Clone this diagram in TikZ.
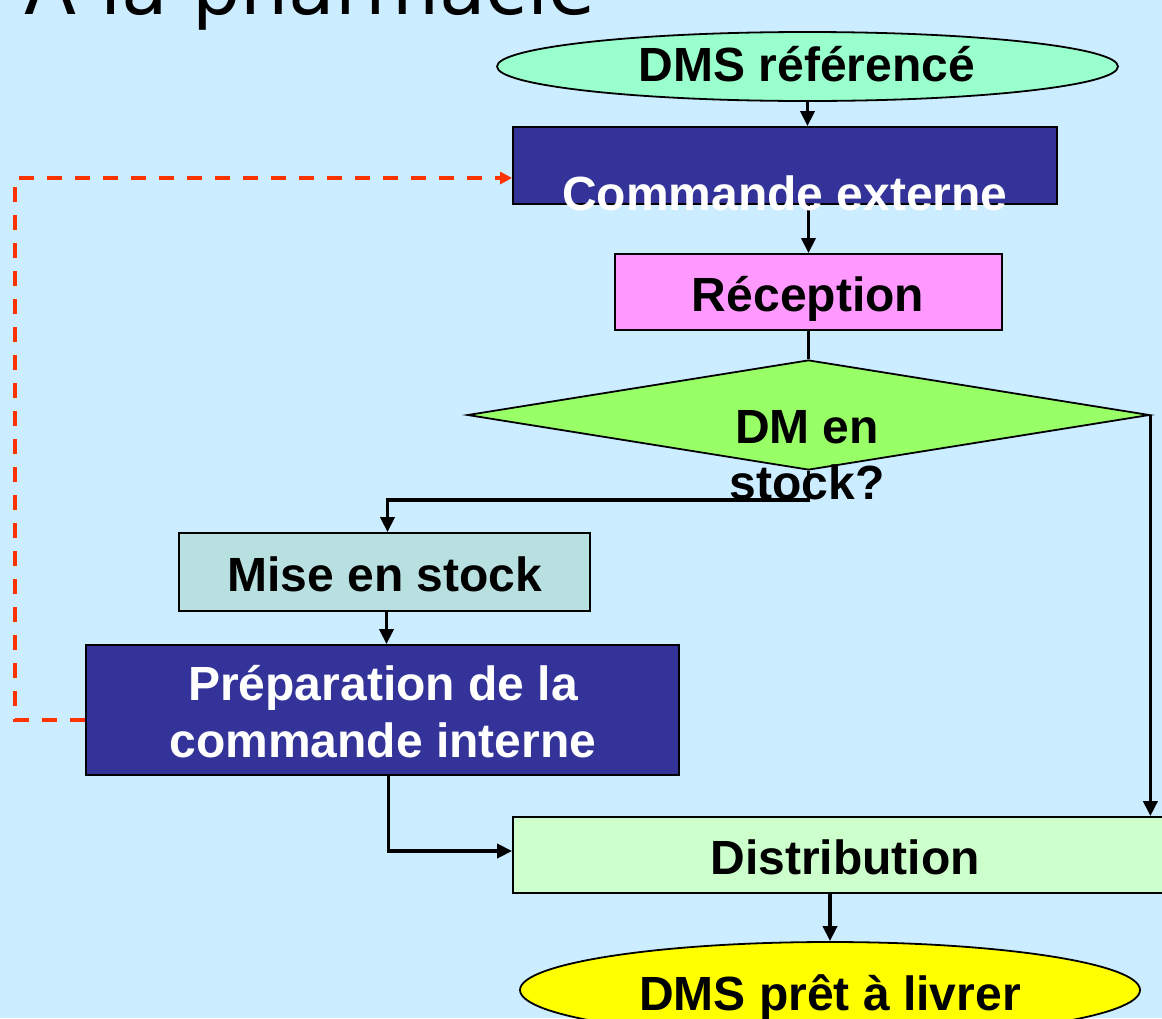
\documentclass[tikz,border=0pt]{standalone}
\usepackage{fontspec}
\setmainfont{Liberation Sans}
\newfontfamily\titlefont{DejaVu Sans}
\usetikzlibrary{shapes.geometric,arrows.meta}
\definecolor{bgblue}{HTML}{CCECFF}
\definecolor{navybox}{HTML}{333399}
\definecolor{mintell}{HTML}{99FFCC}
\definecolor{pinkbox}{HTML}{FF99FF}
\definecolor{limedia}{HTML}{99FF66}
\definecolor{tealbox}{HTML}{B9E0E0}
\definecolor{palegreen}{HTML}{CCFFCC}
\definecolor{yellell}{HTML}{FFFF00}
\definecolor{redor}{HTML}{FF3300}
\begin{document}
\begin{tikzpicture}[x=1pt,y=-1pt,
  shapebox/.style={draw=black, line width=1.8pt, inner sep=0pt},
  lbl/.style={font=\fontsize{48}{56}\selectfont\bfseries, inner sep=0pt, anchor=base},
  flow/.style={line width=3.6pt, -{Triangle[length=15pt,width=14pt]}},
  plainline/.style={line width=3.6pt},
  reddash/.style={draw=redor, line width=3.6pt, dash pattern=on 15pt off 13pt, -{Triangle[length=12pt,width=12pt]}}
]
\useasboundingbox (0,0) rectangle (1162,1018);
\fill[bgblue] (0,0) rectangle (1162,1018);
\begin{scope}
\clip (0,0) rectangle (1162,1018);
% title
\node[anchor=base west, font=\titlefont\fontsize{76}{80}\selectfont, inner sep=0pt] (title) at (24,14) {A la pharmacie};

% shapes
\node[shapebox, ellipse, fill=mintell, minimum width=621pt, minimum height=69pt] (start) at (807.5,66.5) {};
\node[shapebox, rectangle, fill=navybox, minimum width=544pt, minimum height=77pt] (cmd) at (785,165.5) {};
\node[shapebox, rectangle, fill=pinkbox, minimum width=387pt, minimum height=76pt] (rec) at (808.5,292) {};
\node[shapebox, diamond, fill=limedia, minimum width=682pt, minimum height=110pt] (dec) at (808.5,415) {};
\node[shapebox, rectangle, fill=tealbox, minimum width=411pt, minimum height=78pt] (mise) at (384.5,572) {};
\node[shapebox, rectangle, fill=navybox, minimum width=593pt, minimum height=130pt] (prep) at (382.5,710) {};
\node[shapebox, rectangle, fill=palegreen, minimum width=664pt, minimum height=76pt] (dist) at (845,855) {};
\node[shapebox, ellipse, fill=yellell, minimum width=620pt, minimum height=96pt] (end) at (830,990) {};

% connectors
\draw[flow] (start.south) -- (start.south |- cmd.north);
\draw[flow] (rec.north |- cmd.south) -- (rec.north);
\draw[plainline] (rec.south) -- (dec.north);
\coordinate (split) at ([yshift=-29pt]dec.south);
\coordinate (misein) at ([xshift=3pt]mise.north);
\draw[flow] (dec.south) -- (split) -| (misein);
\draw[flow] (dec.east) -- (dec.east |- dist.north);
\draw[flow] ([xshift=2pt]mise.south) -- ([xshift=2pt]mise.south |- prep.north);
\coordinate (prepout) at ([xshift=6pt]prep.south);
\coordinate (distin) at ([yshift=4pt]dist.west);
\draw[flow] (prepout) |- (distin);
\draw[flow] (end.north |- dist.south) -- (end.north);
\coordinate (prepleft) at ([yshift=-10pt]prep.west);
\coordinate (cmdin) at ([yshift=-12.5pt]cmd.west);
\coordinate (leftrail) at (15,0);
\draw[reddash] (prepleft) -- (leftrail |- prepleft) -- (leftrail |- cmdin) -- (cmdin);

% texts
\node[lbl] (tstart) at (807,81) {DMS référencé};
\node[lbl, text=white] (tcmd) at (785,210) {Commande externe};
\node[lbl] (trec) at (808,311) {Réception};
\node[lbl] (tdec1) at (807,443) {DM en};
\node[lbl] (tdec2) at (807,499) {stock?};
\node[lbl] (tmise) at (385,591) {Mise en stock};
\node[lbl, text=white] (tprep1) at (383,700) {Préparation de la};
\node[lbl, text=white] (tprep2) at (383,757) {commande interne};
\node[lbl] (tdist) at (845,874) {Distribution};
\node[lbl] (tend) at (830,1010) {DMS prêt à livrer};
\end{scope}
\end{tikzpicture}
\end{document}
